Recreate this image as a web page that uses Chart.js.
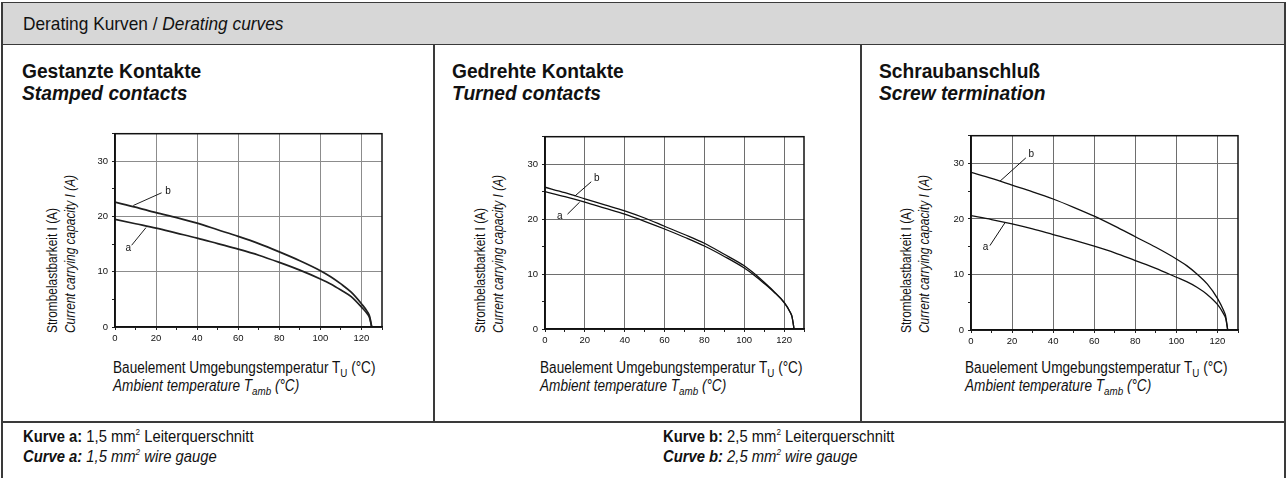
<!DOCTYPE html>
<html>
<head>
<meta charset="utf-8">
<script src="https://cdn.jsdelivr.net/npm/chart.js@4.4.1/dist/chart.umd.min.js"></script>
<style>
  body { margin: 0; background: #fff; }
  #sheet {
    position: relative; width: 1286px; height: 478px; overflow: hidden;
    font-family: "Liberation Sans", Arial, sans-serif;
    color: #111;
  }
  .band { position: absolute; left: 1px; top: 2px; width: 1284px; height: 41px; background: #d7d7d7;
          border-top: 1.5px solid #3a3a3a; border-bottom: 1.5px solid #3a3a3a; }
  .rule { position: absolute; background: #3a3a3a; }
  /* condensed look: a regular face squeezed horizontally */
  .txt { position: absolute; white-space: nowrap; transform-origin: left top; }
  .head { font-size: 19px; line-height: 20px; transform: scaleX(0.91); }
  .title { font-size: 20px; font-weight: bold; line-height: 22px; transform: scaleX(0.96); }
  .caption { font-size: 16px; line-height: 18px; transform: scaleX(0.85); }
  .ytitle { font-size: 14px; line-height: 18px; transform: rotate(-90deg) scaleX(0.85); }
  .foot { font-size: 17px; line-height: 20px; transform: scaleX(0.87); }
  sub { font-size: 72%; vertical-align: -4px; line-height: 0; }
  sup { font-size: 55%; vertical-align: 7px; line-height: 0; }
  canvas { position: absolute; }
  #stamped { filter: blur(0.35px); }
</style>
</head>
<body>
<div id="sheet">
  <div class="band"></div>
  <div class="rule" style="left:1px; top:2px; width:1.5px; height:476px"></div>
  <div class="rule" style="left:1284px; top:2px; width:1.5px; height:476px"></div>
  <div class="rule" style="left:433px; top:44px; width:1.5px; height:378px"></div>
  <div class="rule" style="left:860px; top:44px; width:1.5px; height:378px"></div>
  <div class="rule" style="left:1px; top:421px; width:1285px; height:1.5px"></div>

  <div class="txt head" style="left:23px; top:14px">Derating Kurven / <i>Derating curves</i></div>

  <div class="txt title" style="left:22px; top:60px">Gestanzte Kontakte<br><i>Stamped contacts</i></div>
  <div class="txt title" style="left:452px; top:60px">Gedrehte Kontakte<br><i>Turned contacts</i></div>
  <div class="txt title" style="left:879px; top:60px">Schraubanschluß<br><i>Screw termination</i></div>

  <canvas id="stamped"></canvas>
  <canvas id="turned"></canvas>
  <canvas id="screw"></canvas>

  <div class="txt ytitle" style="left:43px; top:333px">Strombelastbarkeit I (A)<br><i>Current carrying capacity I (A)</i></div>
  <div class="txt ytitle" style="left:471px; top:333px">Strombelastbarkeit I (A)<br><i>Current carrying capacity I (A)</i></div>
  <div class="txt ytitle" style="left:897px; top:333px">Strombelastbarkeit I (A)<br><i>Current carrying capacity I (A)</i></div>

  <div class="txt caption" style="left:113px; top:359px">Bauelement Umgebungstemperatur T<sub>U</sub> (°C)<br><i>Ambient temperature T<sub>amb</sub> (°C)</i></div>
  <div class="txt caption" style="left:540px; top:359px">Bauelement Umgebungstemperatur T<sub>U</sub> (°C)<br><i>Ambient temperature T<sub>amb</sub> (°C)</i></div>
  <div class="txt caption" style="left:965px; top:359px">Bauelement Umgebungstemperatur T<sub>U</sub> (°C)<br><i>Ambient temperature T<sub>amb</sub> (°C)</i></div>

  <div class="txt foot" style="left:23px; top:427px"><b>Kurve a:</b> 1,5 mm<sup>2</sup> Leiterquerschnitt<br><b><i>Curve a:</i></b> <i>1,5 mm<sup>2</sup> wire gauge</i></div>
  <div class="txt foot" style="left:663px; top:427px"><b>Kurve b:</b> 2,5 mm<sup>2</sup> Leiterquerschnitt<br><b><i>Curve b:</i></b> <i>2,5 mm<sup>2</sup> wire gauge</i></div>
</div>

<script>
// ambient temperature sample points (°C), shared by all curves
const temps = [0, 10, 20, 30, 40, 50, 60, 70, 80, 90, 100, 105, 110, 115, 120, 123, 124, 125];

// current carrying capacity (A)
const stampedA = [19.5, 18.7, 17.9, 17.0, 16.1, 15.1, 14.1, 13.0, 11.7, 10.3, 8.7, 7.8, 6.7, 5.5, 3.6, 2.3, 1.6, 0];
const stampedB = [22.6, 21.7, 20.7, 19.8, 18.8, 17.6, 16.4, 15.1, 13.6, 12.0, 10.2, 9.1, 7.8, 6.3, 4.2, 2.7, 1.9, 0];
const turnedA  = [25.0, 24.1, 23.1, 22.0, 20.9, 19.6, 18.2, 16.7, 15.1, 13.2, 11.1, 9.8, 8.3, 6.7, 4.8, 3.1, 2.2, 0];
const turnedB  = [25.8, 24.8, 23.7, 22.6, 21.5, 20.2, 18.7, 17.2, 15.6, 13.6, 11.5, 10.1, 8.5, 6.8, 4.9, 3.1, 2.2, 0];
const screwA   = [20.6, 19.9, 19.1, 18.2, 17.2, 16.2, 15.1, 13.9, 12.5, 11.1, 9.5, 8.7, 7.7, 6.4, 4.6, 2.9, 2.1, 0];
const screwB   = [28.4, 27.3, 26.1, 24.9, 23.6, 22.1, 20.5, 18.7, 16.8, 14.9, 12.8, 11.6, 10.1, 8.3, 5.7, 3.5, 2.5, 0];

// axis labels
const tempTicks = [0, 20, 40, 60, 80, 100, 120];
const currentTicks = [0, 10, 20, 30];

// leader lines from curve to its letter, [temp, current]
const stampedLeaders = [[[8.1, 14.8], [15.1, 18.0]], [[8.9, 22.0], [22.7, 24.3]]];
const turnedLeaders  = [[[11.3, 20.9], [17.4, 23.1]], [[15.0, 24.2], [23.2, 26.8]]];
const screwLeaders   = [[[9.2, 15.2], [16.5, 19.3]], [[14.1, 26.8], [26.7, 31.0]]];

// curve letters, [text, temp, current]
const stampedLetters = [['a', 6.5, 14.3], ['b', 25.8, 24.5]];
const turnedLetters  = [['a', 7.4, 20.6], ['b', 26.0, 27.5]];
const screwLetters   = [['a', 7.1, 14.9], ['b', 29.4, 31.6]];

const Y_AXIS_W = 30, X_AXIS_H = 22, PAD_TOP = 6, PAD_RIGHT = 8;

// letters and the closed plot frame
const curveLetters = {
  id: 'curveLetters',
  afterDatasetsDraw(chart, args, opts) {
    const { ctx, chartArea: a, scales: { x, y } } = chart;
    ctx.save();
    ctx.strokeStyle = '#111';
    ctx.lineWidth = 1.5;
    ctx.strokeRect(a.left, a.top, a.right - a.left, a.bottom - a.top);
    ctx.font = '10px "Liberation Sans", Arial, sans-serif';
    ctx.fillStyle = '#111';
    ctx.textAlign = 'center';
    ctx.textBaseline = 'middle';
    opts.items.forEach(([t, tx, ty]) => ctx.fillText(t, x.getPixelForValue(tx), y.getPixelForValue(ty)));
    ctx.restore();
  }
};

function toPoints(values) {
  return temps.map((t, k) => ({ x: t, y: values[k] }));
}

function makeChart(id, box, curveA, curveB, leaders, letters, style) {
  const cv = document.getElementById(id);
  const w = Y_AXIS_W + (box.right - box.left) + PAD_RIGHT;
  const h = PAD_TOP + (box.bottom - box.top) + X_AXIS_H;
  cv.width = w; cv.height = h;
  cv.style.left = (box.left - Y_AXIS_W) + 'px';
  cv.style.top = (box.top - PAD_TOP) + 'px';

  const curve = (vals) => ({
    data: toPoints(vals), borderColor: style.line, borderWidth: style.lineWidth,
    pointRadius: 0, cubicInterpolationMode: 'monotone', fill: false
  });
  const leader = (pts) => ({
    data: pts.map(([x, y]) => ({ x, y })), borderColor: style.line, borderWidth: 1,
    pointRadius: 0, tension: 0, fill: false
  });

  const tickFont = { family: '"Liberation Sans", Arial, sans-serif', size: 9.5 };

  return new Chart(cv, {
    type: 'line',
    data: { datasets: [curve(curveA), curve(curveB), ...leaders.map(leader)] },
    plugins: [curveLetters],
    options: {
      responsive: false,
      devicePixelRatio: 1,
      animation: false,
      layout: { padding: { top: PAD_TOP, right: PAD_RIGHT, left: 0, bottom: 0 } },
      plugins: {
        legend: { display: false },
        tooltip: { enabled: false },
        curveLetters: { items: letters }
      },
      scales: {
        x: {
          type: 'linear', min: 0, max: 130,
          afterFit: (s) => { s.height = X_AXIS_H; },
          ticks: {
            stepSize: 10, includeBounds: false, autoSkip: false, maxRotation: 0,
            padding: 3, color: '#111', font: tickFont,
            callback: (v) => tempTicks.includes(v) ? String(v) : ''
          },
          grid: {
            color: (c) => c.tick && tempTicks.includes(c.tick.value) ? style.grid : 'rgba(0,0,0,0)',
            tickColor: '#222', tickLength: 3, lineWidth: 1
          },
          border: { color: '#111', width: 1.5 }
        },
        y: {
          min: 0, max: 35,
          afterFit: (s) => { s.width = Y_AXIS_W; },
          ticks: {
            stepSize: 5, includeBounds: false, autoSkip: false,
            padding: 4, color: '#111', font: tickFont,
            callback: (v) => currentTicks.includes(v) ? String(v) : ''
          },
          grid: {
            color: (c) => c.tick && currentTicks.includes(c.tick.value) ? style.grid : 'rgba(0,0,0,0)',
            tickColor: '#222', tickLength: 3, lineWidth: 1
          },
          border: { color: '#111', width: 1.5 }
        }
      }
    }
  });
}

makeChart('stamped', { left: 115, top: 130, right: 382, bottom: 327 }, stampedA, stampedB,
  stampedLeaders, stampedLetters, { line: '#202020', lineWidth: 1.7, grid: '#8c8c8c' });
makeChart('turned', { left: 545, top: 133, right: 804, bottom: 329 }, turnedA, turnedB,
  turnedLeaders, turnedLetters, { line: '#111', lineWidth: 1.3, grid: '#6e6e6e' });
makeChart('screw', { left: 971, top: 132, right: 1238, bottom: 330 }, screwA, screwB,
  screwLeaders, screwLetters, { line: '#111', lineWidth: 1.3, grid: '#6e6e6e' });
</script>
</body>
</html>
